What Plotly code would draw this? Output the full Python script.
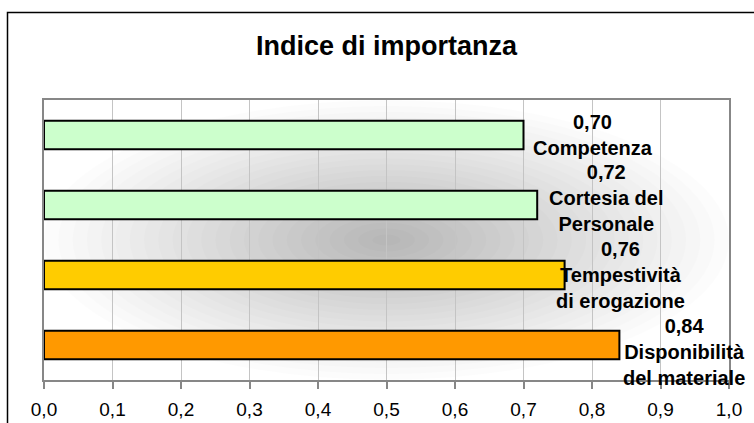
import plotly.graph_objects as go

# ---- data ----
categories = ["Competenza", "Cortesia del Personale", "Tempestività di erogazione", "Disponibilità del materiale"]
label_lines = ["Competenza", "Cortesia del<br>Personale", "Tempestività<br>di erogazione", "Disponibilità<br>del materiale"]
values = [0.70, 0.72, 0.76, 0.84]
bar_colors = ["#CCFFCC", "#CCFFCC", "#FFCC00", "#FF9900"]
tick_vals = [0.0, 0.1, 0.2, 0.3, 0.4, 0.5, 0.6, 0.7, 0.8, 0.9, 1.0]
tick_text = ["0,0", "0,1", "0,2", "0,3", "0,4", "0,5", "0,6", "0,7", "0,8", "0,9", "1,0"]
title_text = "Indice di importanza"

# label placement tweaks (style, not data)
label_xshift = [69, 69, 56, 65]
label_yshift = [0, 7, 0, -7]

FONT = "Arial, Liberation Sans, Helvetica, sans-serif"

fig = go.Figure()
fig.add_trace(go.Bar(
    y=categories, x=values, orientation="h",
    marker=dict(color=bar_colors, line=dict(color="#000000", width=2)),
    width=0.41, hoverinfo="skip",
))

annotations = []
for cat, v, lab, dx, dy in zip(categories, values, label_lines, label_xshift, label_yshift):
    annotations.append(dict(
        x=v, y=cat, xref="x", yref="y",
        text="<b>" + f"{v:.2f}".replace(".", ",") + "<br>" + lab + "</b>",
        showarrow=False, xanchor="center", yanchor="middle",
        xshift=dx, yshift=dy, align="center",
        font=dict(family=FONT, size=20, color="#000000"),
    ))

# radial-ish gray gradient in plot area (kept inside the plot area)
shapes = []
n = 24
for i in range(n):
    k = 1 - i / n
    rx = 0.5 * k
    ry = 0.5 * k
    shapes.append(dict(
        type="circle", xref="x domain", yref="y domain",
        x0=0.5 - rx, x1=0.5 + rx, y0=0.5 - ry, y1=0.5 + ry,
        fillcolor="rgba(0,0,0,0.013)", line=dict(width=0), layer="below",
    ))

# outer frame
ml, mr, mt, mb = 44, 25, 100, 43
W, H = 754, 423
pw, ph = W - ml - mr, H - mt - mb
shapes.append(dict(
    type="rect", xref="paper", yref="paper",
    x0=(7.5 - ml) / pw, x1=(W + 10 - ml) / pw,
    y0=-(H + 10 - (H - mb)) / ph, y1=((H - mb) - 12.5) / ph,
    line=dict(color="#000000", width=1.5), fillcolor="rgba(0,0,0,0)", layer="above",
))

fig.update_layout(
    width=W, height=H,
    margin=dict(l=ml, r=mr, t=mt, b=mb, autoexpand=False),
    paper_bgcolor="#FFFFFF", plot_bgcolor="#FFFFFF",
    showlegend=False,
    title=dict(text="<b>" + title_text + "</b>", x=0.5, xref="paper", xanchor="center",
               y=1 - 46 / H, yref="container", yanchor="middle",
               font=dict(family=FONT, size=27, color="#000000")),
    font=dict(family=FONT, color="#000000"),
    annotations=annotations,
    shapes=shapes,
)
fig.update_xaxes(
    range=[0, 1.0], tickvals=tick_vals, ticktext=tick_text,
    showgrid=True, gridcolor="#C4C4C4", gridwidth=1,
    showline=True, linecolor="#878787", linewidth=2, mirror=True,
    ticks="outside", ticklen=7, tickcolor="#878787", tickwidth=2,
    ticklabelstandoff=4, automargin=False,
    tickfont=dict(family=FONT, size=19, color="#000000"),
    zeroline=False, fixedrange=True,
)
fig.update_yaxes(
    categoryorder="array", categoryarray=categories, autorange="reversed",
    showticklabels=False, showgrid=False, automargin=False,
    showline=True, linecolor="#878787", linewidth=2, mirror=True,
    ticks="", zeroline=False, fixedrange=True,
)

fig.write_html("out.html", config={"displayModeBar": False},
               post_script="document.body.style.margin='0';document.body.style.overflow='hidden';")
